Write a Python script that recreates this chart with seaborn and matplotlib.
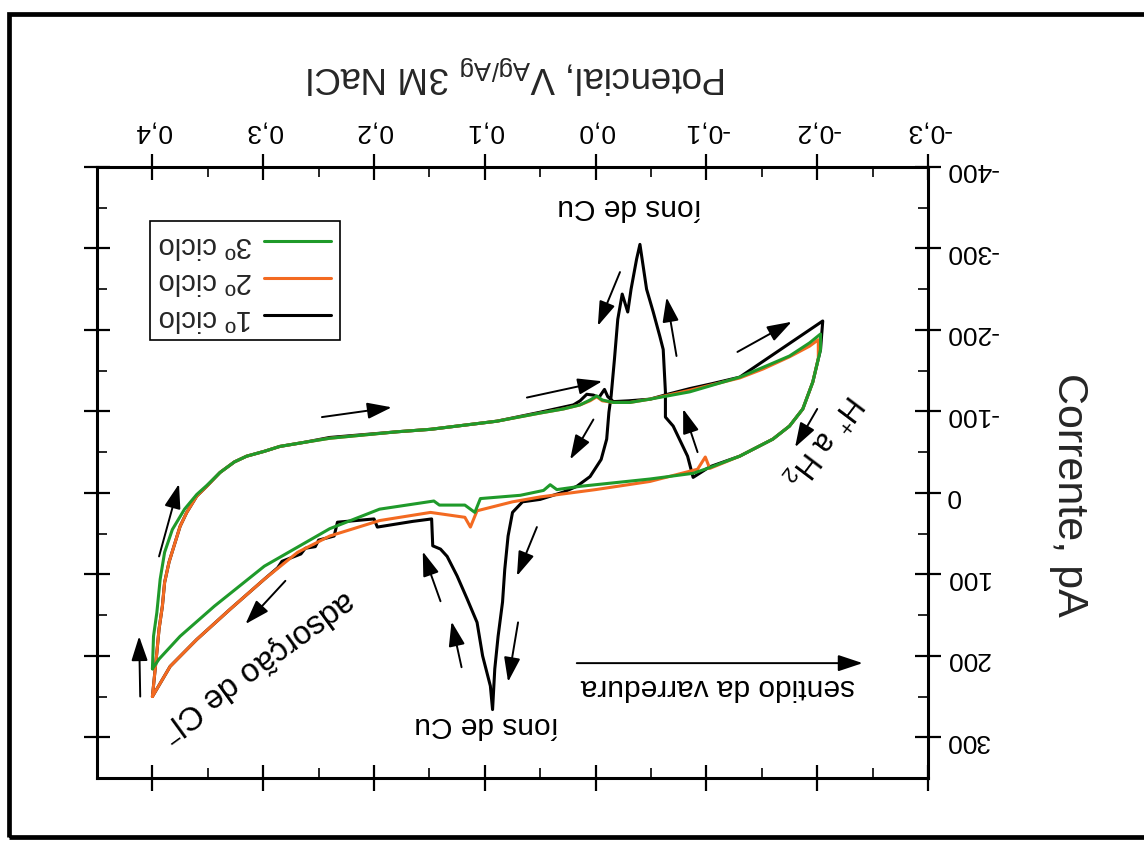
import matplotlib
matplotlib.use("Agg")
import matplotlib.pyplot as plt
from matplotlib.patches import Rectangle
from matplotlib.ticker import MultipleLocator
import pandas as pd
import seaborn as sns

# Cyclic voltammetry, potential in V (Ag/AgCl 3M NaCl), current in pA.
# Each cycle: sweep from 0.4 V down to -0.2 V, then back up to 0.4 V.
ciclo1_V = [0.400, 0.396, 0.394, 0.391, 0.389, 0.385, 0.375, 0.369, 0.360, 0.351, 0.339, 0.326,
            0.315, 0.299, 0.285, 0.263, 0.240, 0.179, 0.149, 0.089, 0.050, 0.020, 0.014, 0.008,
            0.002, -0.003, -0.008, -0.011, -0.016, -0.030, -0.049, -0.065, -0.085, -0.105, -0.130,
            -0.205,
            -0.203, -0.196, -0.187, -0.175, -0.160, -0.130, -0.103, -0.088,
            -0.083, -0.070, -0.063, -0.063, -0.061, -0.058, -0.052, -0.046, -0.040,
            -0.037, -0.032, -0.029, -0.024, -0.020, -0.017, -0.014, -0.012, -0.010, -0.005,
            0.005, 0.017, 0.029, 0.050, 0.066, 0.075, 0.079, 0.082, 0.084, 0.088, 0.091, 0.093,
            0.095, 0.102, 0.107, 0.116, 0.125, 0.134, 0.140, 0.147, 0.148, 0.165, 0.197, 0.200,
            0.233, 0.236, 0.250, 0.253, 0.262, 0.266, 0.283, 0.287, 0.299, 0.330, 0.360, 0.384,
            0.400]
ciclo1_I = [250, 196, 167, 139, 110, 85, 41, 24, 4, -8, -25, -38,
            -45, -51, -57, -62, -68, -75, -78, -88, -99, -108, -113, -121,
            -120, -117, -127, -118, -112, -113, -115, -121, -128, -134, -142,
            -211,
            -176, -136, -103, -82, -66, -45, -32, -19,
            -45, -82, -93, -124, -176, -192, -222, -250, -305,
            -287, -250, -222, -244, -213, -164, -119, -99, -66, -41,
            -20, -8, -1, 8, 11, 24, 53, 94, 134, 176, 216, 266,
            237, 200, 159, 130, 102, 78, 69, 65, 32, 35, 42, 32,
            36, 53, 58, 66, 68, 75, 84, 92, 106, 143, 180, 213,
            250]

ciclo2_V = [0.400, 0.396, 0.394, 0.391, 0.389, 0.385, 0.375, 0.369, 0.360, 0.351, 0.339, 0.326,
            0.315, 0.299, 0.285, 0.263, 0.240, 0.179, 0.149, 0.089, 0.050, 0.029, 0.014, 0.005,
            -0.001, -0.006, -0.016, -0.031, -0.049, -0.085, -0.130, -0.151, -0.175, -0.193, -0.201,
            -0.201, -0.196, -0.187, -0.175, -0.160, -0.130, -0.103, -0.099, -0.092, -0.049, 0.000,
            0.050, 0.075, 0.107, 0.113, 0.118, 0.149, 0.195, 0.240, 0.269, 0.299, 0.330, 0.360,
            0.384, 0.400]
ciclo2_I = [250, 196, 167, 139, 110, 85, 41, 24, 4, -8, -25, -38,
            -45, -51, -57, -62, -67, -75, -78, -88, -98, -103, -108, -113,
            -118, -113, -111, -111, -115, -126, -141, -152, -167, -180, -188,
            -165, -136, -103, -82, -66, -45, -30, -44, -29, -14, -4,
            5, 11, 22, 42, 30, 24, 34, 53, 73, 106, 143, 180,
            213, 250]

ciclo3_V = [0.400, 0.399, 0.396, 0.393, 0.389, 0.382, 0.371, 0.360, 0.351, 0.339, 0.326, 0.315,
            0.299, 0.285, 0.263, 0.240, 0.179, 0.149, 0.089, 0.050, 0.029, 0.014, 0.005, -0.001,
            -0.006, -0.016, -0.031, -0.049, -0.085, -0.130, -0.151, -0.175, -0.193, -0.203,
            -0.203, -0.196, -0.187, -0.175, -0.160, -0.130, -0.103, -0.088, -0.049, 0.014, 0.035,
            0.041, 0.047, 0.068, 0.104, 0.109, 0.118, 0.141, 0.146, 0.195, 0.240, 0.299, 0.344,
            0.375, 0.394, 0.400]
ciclo3_I = [216, 176, 147, 106, 73, 45, 20, 2, -9, -25, -38, -45,
            -51, -57, -62, -67, -75, -78, -88, -98, -103, -108, -114, -119,
            -114, -111, -111, -115, -124, -142, -154, -168, -184, -195,
            -176, -136, -103, -82, -66, -45, -31, -24, -17, -8, -4,
            -10, -3, 3, 7, 24, 15, 15, 10, 20, 44, 90, 139,
            176, 204, 216]

ciclos = ["1º ciclo", "2º ciclo", "3º ciclo"]
cores = ["#000000", "#f36a21", "#1f9a2a"]

x_ticks = [-0.3, -0.2, -0.1, 0.0, 0.1, 0.2, 0.3, 0.4]
x_tick_labels = ["-0,3", "-0,2", "-0,1", "0,0", "0,1", "0,2", "0,3", "0,4"]
y_ticks = [-400, -300, -200, -100, 0, 100, 200, 300]
y_tick_labels = ["-400", "-300", "-200", "-100", "0", "100", "200", "300"]

sns.set_style("ticks")
plt.rcParams["font.family"] = ["Liberation Sans", "DejaVu Sans"]
plt.rcParams["mathtext.default"] = "regular"

frames = []
for nome, v, i in zip(ciclos, [ciclo1_V, ciclo2_V, ciclo3_V], [ciclo1_I, ciclo2_I, ciclo3_I]):
    frames.append(pd.DataFrame({"V": v, "I": i, "ciclo": nome, "passo": range(len(v))}))
df = pd.concat(frames, ignore_index=True)

fig = plt.figure(figsize=(11.44, 8.45), dpi=100)
ax = fig.add_axes([0.0848, 0.0781, 0.7264, 0.7231])

sns.lineplot(data=df, x="V", y="I", hue="ciclo", hue_order=ciclos,
             palette=dict(zip(ciclos, cores)), sort=False, estimator=None,
             linewidth=2.2, ax=ax)

# upside-down presentation: both axes reversed, labels on top/right
ax.set_xlim(0.45, -0.3)
ax.set_ylim(350, -400)
ax.set_xticks(x_ticks)
ax.set_xticklabels(x_tick_labels)
ax.set_yticks(y_ticks)
ax.set_yticklabels(y_tick_labels)
ax.xaxis.set_minor_locator(MultipleLocator(0.05))
ax.yaxis.set_minor_locator(MultipleLocator(50))

for s in ax.spines.values():
    s.set_linewidth(2.2)
    s.set_color("black")

ax.tick_params(which="major", direction="inout", length=19, width=1.6,
               top=True, bottom=True, left=True, right=True,
               labeltop=True, labelbottom=False, labelright=True, labelleft=False,
               labelsize=19, colors="black")
ax.tick_params(which="minor", direction="in", length=7, width=1.4,
               top=True, bottom=True, left=True, right=True)
ax.tick_params(axis="x", which="major", labelrotation=180, pad=8)
ax.tick_params(axis="y", which="major", labelrotation=180, pad=3)

ax.set_xlabel("Potencial, V$_{Ag/Ag}$ 3M NaCl", fontsize=26.5, rotation=180)
ax.xaxis.set_label_position("top")
ax.xaxis.set_label_coords(0.505, 1.152)
ax.xaxis.label.set_va("center")
ax.set_ylabel("Corrente, pA", fontsize=31, rotation=270)
ax.yaxis.set_label_position("right")
ax.yaxis.set_label_coords(1.170, 0.465)
ax.yaxis.label.set_va("center")
ax.yaxis.label.set_ha("center")

# legend, listed bottom-up so it reads correctly when turned over
handles, labels = ax.get_legend_handles_labels()
order = [labels.index(c) for c in ciclos[::-1]]
leg = ax.legend([handles[k] for k in order], [labels[k] for k in order],
                loc="upper left", bbox_to_anchor=(0.064, 0.912), borderaxespad=0,
                markerfirst=False, fontsize=21, handlelength=2.3, handletextpad=0.4,
                labelspacing=0.3, borderpad=0.3, fancybox=False, framealpha=1,
                edgecolor="black")
leg.get_frame().set_linewidth(1.2)
for t in leg.get_texts():
    t.set_rotation(180)
for h in leg.get_lines():
    h.set_linewidth(2.2)

# annotations
txt = dict(fontsize=21.5, ha="center", va="center", color="black")
ax.text(-0.031, -352, "íons de Cu", rotation=180, **txt)
ax.text(0.098, 284, "íons de Cu", rotation=180, **txt)
ax.text(-0.110, 237, "sentido da varredura", rotation=180, **txt)
ax.text(0.306, 210, "adsorção de Cl$^{-}$", rotation=216, fontsize=23.5,
        ha="center", va="center", color="black")
ax.text(-0.206, -66, "H$^{+}$ a H$_{2}$", rotation=233, fontsize=22.5,
        ha="center", va="center", color="black")

setas = [
    ((0.247, -93), (0.184, -105)),
    ((0.062, -117), (-0.006, -137)),
    ((-0.022, -271), (-0.002, -205)),
    ((-0.073, -168), (-0.064, -240)),
    ((0.002, -90), (0.023, -41)),
    ((-0.092, -50), (-0.079, -103)),
    ((-0.128, -173), (-0.177, -210)),
    ((-0.200, -103), (-0.180, -56)),
    ((0.053, 42), (0.071, 102)),
    ((0.070, 159), (0.079, 232)),
    ((0.140, 133), (0.156, 72)),
    ((0.121, 214), (0.130, 158)),
    ((0.394, 78), (0.376, -11)),
    ((0.411, 250), (0.412, 176)),
    ((0.280, 108), (0.316, 161)),
    ((0.017, 209), (-0.241, 209)),
]
for (x0, y0), (x1, y1) in setas:
    ax.annotate("", xy=(x1, y1), xytext=(x0, y0),
                arrowprops=dict(arrowstyle="-|>,head_length=0.75,head_width=0.25",
                                mutation_scale=20, lw=1.4, color="black",
                                shrinkA=0, shrinkB=0))

# outer frame around the figure
fig.patches.append(Rectangle((0.0075, 0.0083), 1.2, 0.974, transform=fig.transFigure,
                             fill=False, edgecolor="black", linewidth=3.4))

fig.savefig("out.png", dpi=100)
